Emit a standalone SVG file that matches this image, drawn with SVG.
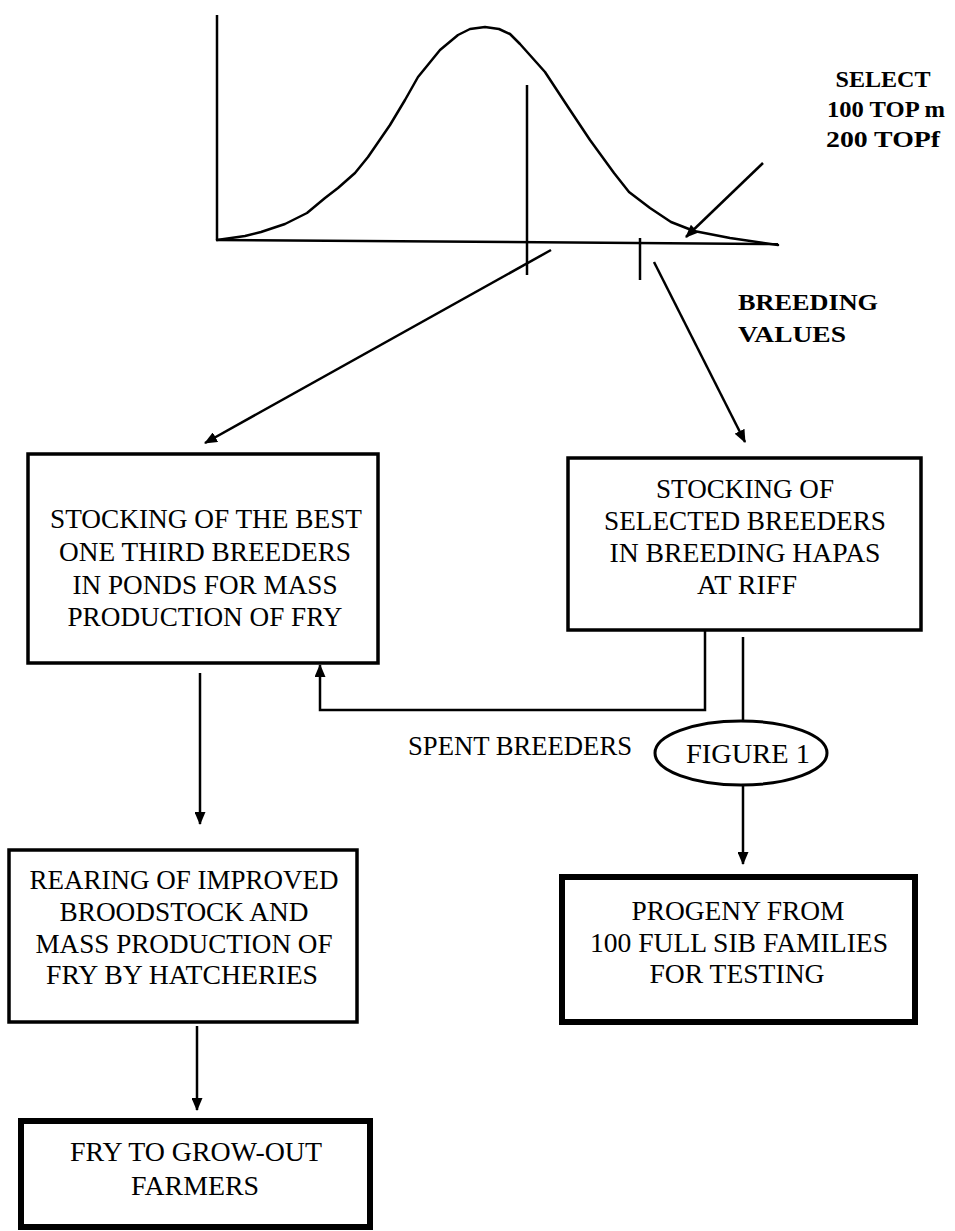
<svg xmlns="http://www.w3.org/2000/svg" width="955" height="1231" viewBox="0 0 955 1231">
<style>
text{font-family:"Liberation Serif",serif;fill:#000;text-anchor:middle;}
.b{font-size:28px;}
.t{font-size:24px;font-weight:bold;}
.box{fill:#fff;stroke:#000;stroke-width:3.5;}
.thick{fill:#fff;stroke:#000;stroke-width:6;}
.ln{fill:none;stroke:#000;stroke-width:2.5;}
</style>
<defs>
<marker id="ah" markerWidth="13" markerHeight="11" refX="12" refY="5.5" orient="auto" markerUnits="userSpaceOnUse">
<path d="M0,0 L13,5.5 L0,11 Z" fill="#000"/>
</marker>
</defs>
<rect width="955" height="1231" fill="#fff"/>
<g id="graph">
<line x1="217" y1="15" x2="217" y2="240" class="ln" stroke-width="3.5"/>
<line x1="216" y1="240" x2="778" y2="244" class="ln" stroke-width="3.5"/>
<polyline class="ln" stroke-width="5" stroke-linejoin="round" stroke-linecap="round" points="217,240 245,236 261,232 285,224 307,213 325,198 338,188 355,173 368,157 390,125 405,100 418,77 440,50 458,35 470,29 485,27 499,29 510,34 520,44 545,72 568,107 590,140 614,173 629,192 650,208 671,222 694,231 730,238 778,245"/>
<line x1="527" y1="85" x2="527" y2="275" class="ln"/>
<line x1="640" y1="238" x2="640" y2="280" class="ln"/>
</g>
<g id="labels">
<text class="t" x="883" y="87" textLength="95" lengthAdjust="spacingAndGlyphs">SELECT</text>
<text class="t" x="886" y="117" textLength="118" lengthAdjust="spacingAndGlyphs">100 TOP m</text>
<text class="t" x="883" y="147" textLength="114" lengthAdjust="spacingAndGlyphs">200 TOPf</text>
<text class="t" x="808" y="310" textLength="140" lengthAdjust="spacingAndGlyphs">BREEDING</text>
<text class="t" x="792" y="342" textLength="108" lengthAdjust="spacingAndGlyphs">VALUES</text>
</g>
<g id="connectors">
<line x1="763" y1="163" x2="686" y2="237" class="ln" marker-end="url(#ah)"/>
<line x1="551" y1="250" x2="205" y2="443" class="ln" marker-end="url(#ah)"/>
<line x1="654" y1="262" x2="745" y2="442" class="ln" marker-end="url(#ah)"/>
<polyline points="705,631 705,710 320,710 320,665" class="ln" marker-end="url(#ah)"/>
<line x1="743" y1="637" x2="743" y2="722" class="ln"/>
<line x1="743" y1="784" x2="743" y2="864" class="ln" marker-end="url(#ah)"/>
<line x1="200" y1="673" x2="200" y2="824" class="ln" marker-end="url(#ah)"/>
<line x1="197" y1="1026" x2="197" y2="1110" class="ln" marker-end="url(#ah)"/>
<text class="b" x="520" y="755" textLength="224" lengthAdjust="spacingAndGlyphs">SPENT BREEDERS</text>
</g>
<g id="node-best">
<rect x="28" y="454" width="350" height="209" class="box"/>
<text class="b" x="206" y="528" textLength="312" lengthAdjust="spacingAndGlyphs">STOCKING OF THE BEST</text>
<text class="b" x="205" y="561" textLength="292" lengthAdjust="spacingAndGlyphs">ONE THIRD BREEDERS</text>
<text class="b" x="205" y="594" textLength="265" lengthAdjust="spacingAndGlyphs">IN PONDS FOR MASS</text>
<text class="b" x="205" y="626" textLength="275" lengthAdjust="spacingAndGlyphs">PRODUCTION OF FRY</text>
</g>
<g id="node-selected">
<rect x="568" y="458" width="353" height="172" class="box"/>
<text class="b" x="745" y="498" textLength="178" lengthAdjust="spacingAndGlyphs">STOCKING OF</text>
<text class="b" x="745" y="530" textLength="282" lengthAdjust="spacingAndGlyphs">SELECTED BREEDERS</text>
<text class="b" x="745" y="562" textLength="271" lengthAdjust="spacingAndGlyphs">IN BREEDING HAPAS</text>
<text class="b" x="747" y="594" textLength="100" lengthAdjust="spacingAndGlyphs">AT RIFF</text>
</g>
<g id="node-figure">
<ellipse cx="741" cy="753" rx="86" ry="32" fill="#fff" stroke="#000" stroke-width="3"/>
<text class="b" x="748" y="763" textLength="124" lengthAdjust="spacingAndGlyphs">FIGURE 1</text>
</g>
<g id="node-rearing">
<rect x="9" y="850" width="348" height="172" class="box"/>
<text class="b" x="184" y="889" textLength="309" lengthAdjust="spacingAndGlyphs">REARING OF IMPROVED</text>
<text class="b" x="184" y="921" textLength="249" lengthAdjust="spacingAndGlyphs">BROODSTOCK AND</text>
<text class="b" x="184" y="953" textLength="297" lengthAdjust="spacingAndGlyphs">MASS PRODUCTION OF</text>
<text class="b" x="182" y="984" textLength="272" lengthAdjust="spacingAndGlyphs">FRY BY HATCHERIES</text>
</g>
<g id="node-progeny">
<rect x="562" y="877" width="353" height="145" class="thick"/>
<text class="b" x="738" y="920" textLength="213" lengthAdjust="spacingAndGlyphs">PROGENY FROM</text>
<text class="b" x="739" y="952" textLength="298" lengthAdjust="spacingAndGlyphs">100 FULL SIB FAMILIES</text>
<text class="b" x="737" y="983" textLength="175" lengthAdjust="spacingAndGlyphs">FOR TESTING</text>
</g>
<g id="node-fry">
<rect x="21" y="1121" width="349" height="106" class="thick"/>
<text class="b" x="196" y="1161" textLength="252" lengthAdjust="spacingAndGlyphs">FRY TO GROW-OUT</text>
<text class="b" x="195" y="1195" textLength="128" lengthAdjust="spacingAndGlyphs">FARMERS</text>
</g>
</svg>
